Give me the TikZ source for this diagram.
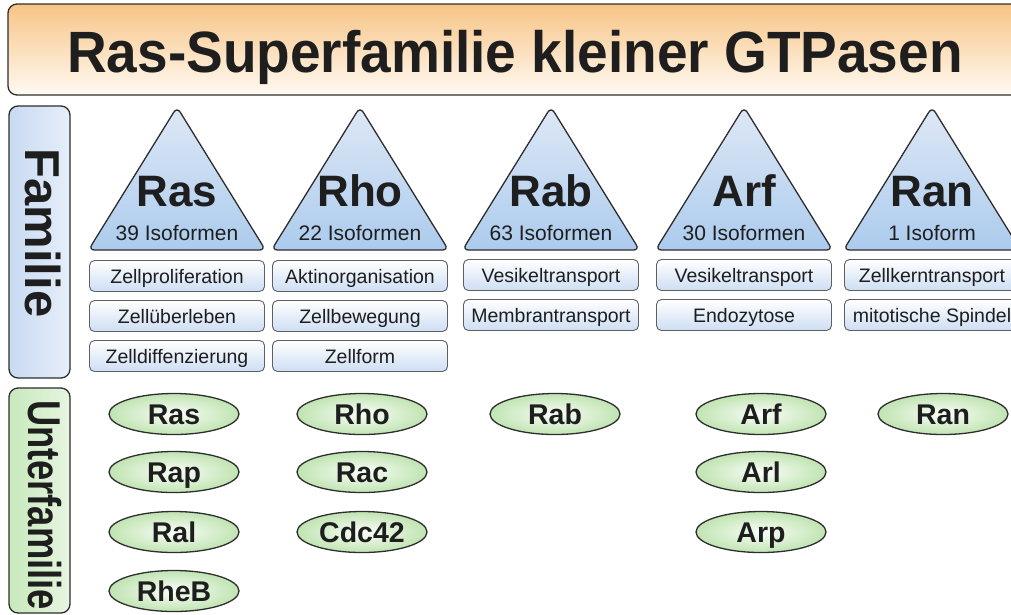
\documentclass[tikz,border=0pt]{standalone}
\usepackage{fontspec}
\setmainfont{Liberation Sans}
\usetikzlibrary{shapes.geometric}

\definecolor{framegray}{RGB}{45,45,45}
\definecolor{boxgray}{RGB}{95,95,95}
\definecolor{textgray}{RGB}{30,30,30}
\definecolor{titleorange}{RGB}{247,196,134}
\definecolor{titlelight}{RGB}{255,250,242}
\definecolor{triblue}{RGB}{172,203,237}
\definecolor{tritop}{RGB}{222,232,246}
\definecolor{boxblue}{RGB}{205,222,243}
\definecolor{famblue}{RGB}{200,218,242}
\definecolor{subgreen}{RGB}{192,228,178}
\definecolor{subgreenin}{RGB}{250,254,248}
\definecolor{famgreen}{RGB}{200,233,188}

\begin{document}
\begin{tikzpicture}[x=1pt,y=-1pt,text=textgray]

	\tikzset{
		frame/.style={draw=framegray,line width=1.3pt,rounded corners=9pt},
		tri/.style={draw=framegray,line width=1.3pt,rounded corners=6pt,top color=tritop,middle color=white,bottom color=triblue},
		func/.style={draw=boxgray,line width=0.9pt,rounded corners=5pt,top color=white,bottom color=boxblue,
			minimum width=175pt,minimum height=31pt,inner sep=0pt,text height=14pt,text depth=0pt,
			font=\fontsize{19.5}{20}\selectfont},
		sub/.style={ellipse,draw=framegray,line width=1.3pt,inner color=subgreenin,outer color=subgreen,
			minimum width=130pt,minimum height=41pt,inner sep=0pt,text height=20.5pt,text depth=0pt,
			font=\bfseries\fontsize{28.5}{30}\selectfont},
		fam/.style={anchor=base,font=\bfseries\fontsize{44}{46}\selectfont},
		iso/.style={anchor=base,font=\fontsize{21}{22}\selectfont}
	}
	\useasboundingbox (0,0) rectangle (1011,614);
	\clip (0,0) rectangle (1011,614);

	% title
	\draw[frame,top color=titleorange,bottom color=titlelight] (8,4) rectangle (1040,95);
	\node[anchor=base,font=\bfseries\fontsize{55}{58}\selectfont] (title) at (515,72) {\scalebox{1}[1.06]{Ras-Superfamilie kleiner GTPasen}};

	% row labels
	\draw[frame,left color=famblue,middle color=white,right color=famblue!45] (9,106) rectangle (70,378);
	\node[rotate=-90,font=\bfseries\fontsize{49}{50}\selectfont] (familie) at (43,233) {Familie};
	\draw[frame,left color=famgreen,middle color=white,right color=famgreen!45] (9,388) rectangle (70,613);
	\node[rotate=-90,font=\bfseries\fontsize{46}{48}\selectfont] (unterfamilie) at (45,505) {\scalebox{0.79}[1]{Unterfamilie}};

	% triangles
	\foreach \cx in {177,360,551,744,932}
		\draw[tri] (\cx,107) -- (\cx+88.5,250) -- (\cx-88.5,250) -- cycle;

	\node[fam] (rasfam) at (177,206) {Ras};
	\node[iso] (rasiso) at (177,240) {39 Isoformen};
	\node[fam] (rhofam) at (360,206) {Rho};
	\node[iso] (rhoiso) at (360,240) {22 Isoformen};
	\node[fam] (rabfam) at (551,206) {Rab};
	\node[iso] (rabiso) at (551,240) {63 Isoformen};
	\node[fam] (arffam) at (744,206) {Arf};
	\node[iso] (arfiso) at (744,240) {30 Isoformen};
	\node[fam] (ranfam) at (932,206) {Ran};
	\node[iso] (raniso) at (932,240) {1 Isoform};

	% functions
	\node[func] (rasf1) at (177,276) {Zellproliferation};
	\node[func] (rasf2) at (177,316) {Zellüberleben};
	\node[func] (rasf3) at (177,356) {Zelldiffenzierung};
	\node[func] (rhof1) at (360,276) {Aktinorganisation};
	\node[func] (rhof2) at (360,316) {Zellbewegung};
	\node[func] (rhof3) at (360,356) {Zellform};
	\node[func] (rabf1) at (551,275) {Vesikeltransport};
	\node[func] (rabf2) at (551,315) {Membrantransport};
	\node[func] (arff1) at (744,275) {Vesikeltransport};
	\node[func] (arff2) at (744,315) {Endozytose};
	\node[func] (ranf1) at (932,275) {Zellkerntransport};
	\node[func] (ranf2) at (932,315) {mitotische Spindel};

	% subfamilies
	\node[sub] (rasu1) at (174,414) {Ras};
	\node[sub] (rasu2) at (174,472) {Rap};
	\node[sub] (rasu3) at (174,532) {Ral};
	\node[sub] (rasu4) at (174,591) {RheB};
	\node[sub] (rhou1) at (362,414) {Rho};
	\node[sub] (rhou2) at (362,472) {Rac};
	\node[sub] (rhou3) at (362,532) {Cdc42};
	\node[sub] (rabu1) at (555,414) {Rab};
	\node[sub] (arfu1) at (761,414) {Arf};
	\node[sub] (arfu2) at (761,472) {Arl};
	\node[sub] (arfu3) at (761,532) {Arp};
	\node[sub] (ranu1) at (943,414) {Ran};

\end{tikzpicture}
\end{document}
